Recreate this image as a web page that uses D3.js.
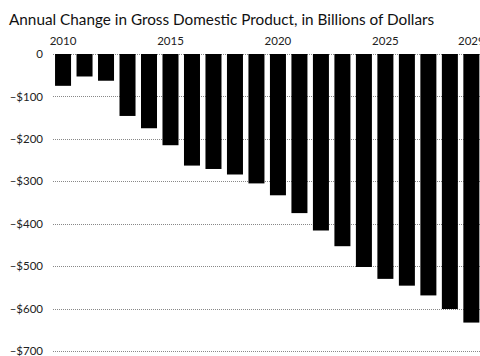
<!DOCTYPE html>
<html>
<head>
<meta charset="utf-8">
<script src="https://cdn.jsdelivr.net/npm/d3@7"></script>
<style>
	body { margin: 0; background: #fff; }
	svg { display: block; font-family: Lato, "Open Sans", sans-serif; }
	.title { font-size: 15.3px; fill: #111; }
	.tick text { font-family: Lato, "Open Sans", sans-serif; font-size: 11.5px; fill: #222; }
	.grid line { stroke: #888; stroke-dasharray: 1,1; stroke-width: 1; }
</style>
</head>
<body>
<svg id="chart" width="480" height="356"></svg>
<script>
// years shown and annual change in GDP (billions of dollars)
var years = [2010, 2011, 2012, 2013, 2014, 2015, 2016, 2017, 2018, 2019,
	2020, 2021, 2022, 2023, 2024, 2025, 2026, 2027, 2028, 2029];
var gdpChange = [-75, -53, -63, -146, -175, -215, -263, -271, -284, -305,
	-333, -375, -416, -453, -502, -530, -546, -569, -601, -633];
var yearTicks = [2010, 2015, 2020, 2025, 2029];
var valueTicks = [0, -100, -200, -300, -400, -500, -600, -700];

var svg = d3.select("#chart");
var margin = {top: 54, left: 53, right: 0};

var x = d3.scaleBand()
	.domain(years)
	.range([51.6, 482.8])
	.paddingInner(0.255)
	.paddingOuter(0.16);

var y = d3.scaleLinear()
	.domain([0, -700])
	.range([54, 351]);

svg.append("text")
	.attr("class", "title")
	.attr("x", 9)
	.attr("y", 25)
	.text("Annual Change in Gross Domestic Product, in Billions of Dollars");

// dotted gridlines
svg.append("g")
	.attr("class", "grid")
	.selectAll("line")
	.data(valueTicks)
	.enter()
	.append("line")
		.attr("x1", margin.left)
		.attr("x2", 480)
		.attr("y1", function(d) {return Math.round(y(d)) + 0.5;})
		.attr("y2", function(d) {return Math.round(y(d)) + 0.5;});

// bars
svg.append("g")
	.selectAll("rect")
	.data(gdpChange)
	.enter()
	.append("rect")
		.attr("x", function(d, i) {return x(years[i]);})
		.attr("y", y(0))
		.attr("width", x.bandwidth())
		.attr("height", function(d) {return y(d) - y(0);})
		.attr("fill", "#000");

// year axis on top
var xAxis = d3.axisTop(x)
	.tickValues(yearTicks)
	.tickSize(0)
	.tickPadding(0);

svg.append("g")
	.attr("transform", "translate(0,45)")
	.call(xAxis)
	.call(function(g) {g.select(".domain").remove();});

// value axis on the left
var yAxis = d3.axisLeft(y)
	.tickValues(valueTicks)
	.tickSize(0)
	.tickPadding(0)
	.tickFormat(function(d) {return d == 0 ? "0" : "\u2013$" + Math.abs(d);});

svg.append("g")
	.attr("transform", "translate(43,0)")
	.call(yAxis)
	.call(function(g) {g.select(".domain").remove();});
</script>
</body>
</html>
